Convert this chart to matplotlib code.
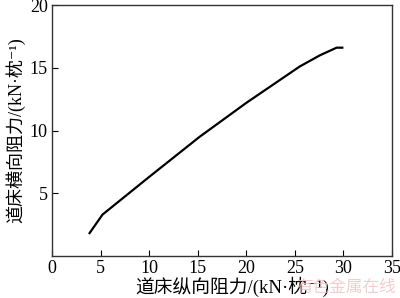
import matplotlib
matplotlib.use("Agg")
import matplotlib.pyplot as plt

# longitudinal vs lateral ballast resistance
x_long = [3.8, 5.2, 10.0, 15.2, 20.0, 25.5, 27.6, 29.3, 30.0]
y_lat = [1.75, 3.3, 6.3, 9.5, 12.2, 15.1, 16.0, 16.6, 16.6]
xticks = [0, 5, 10, 15, 20, 25, 30, 35]
yticks = [5, 10, 15, 20]

fam = ['Liberation Serif', 'Noto Sans CJK SC', 'DejaVu Sans']
plt.rcParams['font.family'] = fam

fig = plt.figure(figsize=(4.0, 2.98), dpi=100)
ax = fig.add_axes([52 / 400, 1 - 256 / 298, 340 / 400, 251 / 298])

ax.plot(x_long, y_lat, color='black', lw=1.6, solid_capstyle='butt')

ax.set_xlim(0, 35)
ax.set_ylim(0, 20)
ax.set_xticks(xticks)
ax.set_yticks(yticks)
ax.tick_params(direction='in', length=4, width=0.8, labelsize=13, pad=3,
               top=False, right=False)
for s in ax.spines.values():
    s.set_linewidth(1.0)
    s.set_color('#333333')

fig.text(232 / 400, 1 - 287 / 298, '道床纵向阻力/(kN·枕⁻¹)', fontsize=13.5,
         ha='center', va='center')
fig.text(15 / 400, 1 - 130 / 298, '道床横向阻力/(kN·枕⁻¹)', fontsize=13,
         ha='center', va='center', rotation=90)

fig.text(346 / 400, 1 - 287 / 298, '有色金属在线', color='#f3c0c0', fontsize=12,
         ha='center', va='center', family=['Noto Sans CJK SC'], alpha=0.8)

fig.savefig('out.png', dpi=100)
